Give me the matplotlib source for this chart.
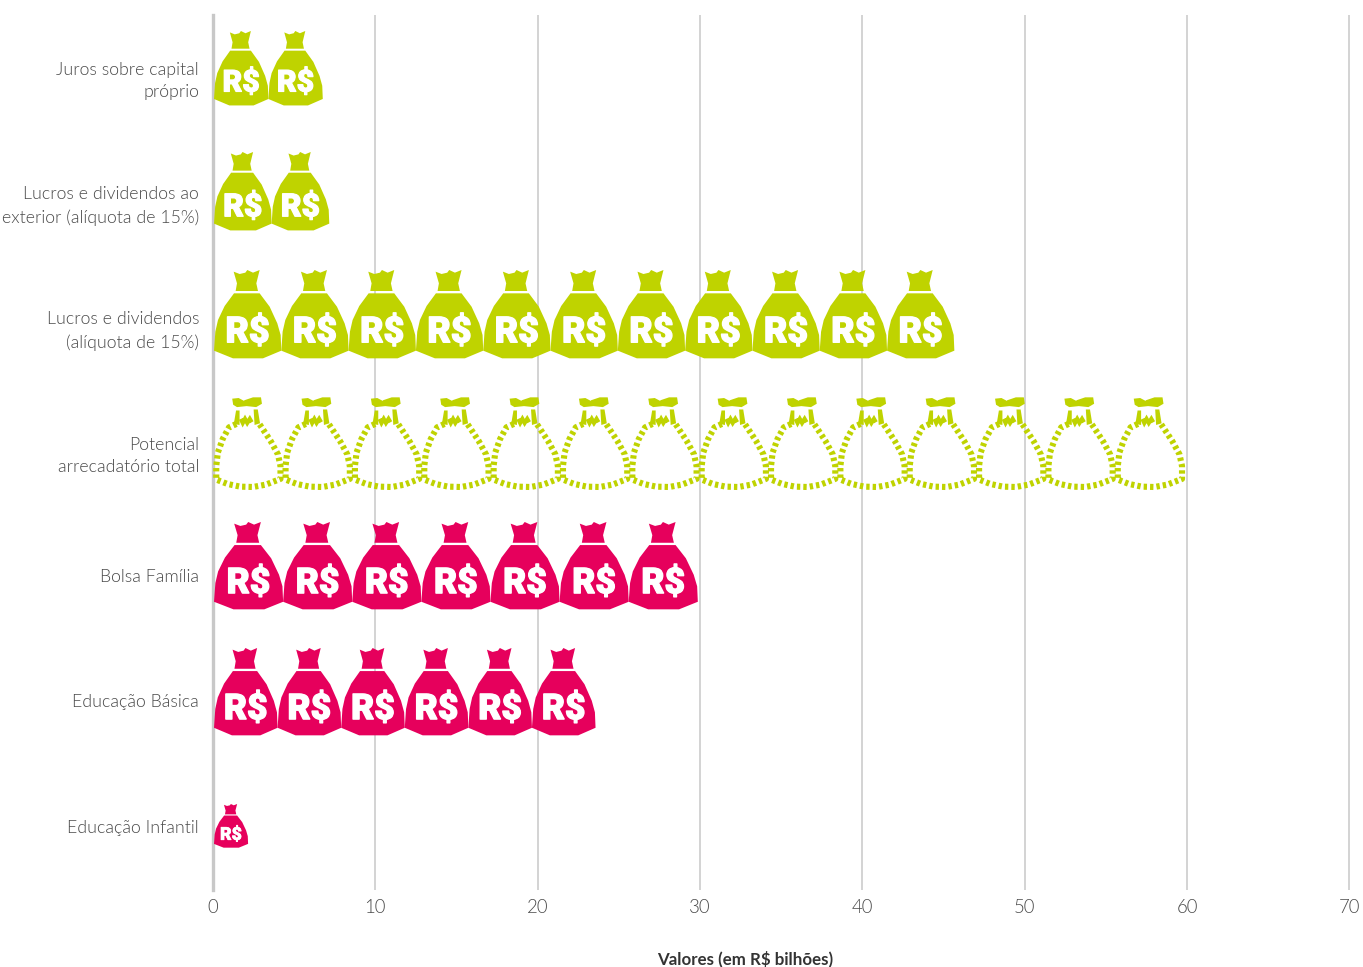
import matplotlib
matplotlib.use("Agg")
import matplotlib.pyplot as plt
import matplotlib.patheffects as pe
from matplotlib.patches import PathPatch
from matplotlib.path import Path
from matplotlib.transforms import Affine2D

# ---- data ----
categories = ["Juros sobre capital\npróprio", "Lucros e dividendos ao\nexterior (alíquota de 15%)",
              "Lucros e dividendos\n(alíquota de 15%)", "Potencial\narrecadatório total",
              "Bolsa Família", "Educação Básica", "Educação Infantil"]
values = [6.7, 7.1, 45.6, 59.8, 29.8, 23.5, 2.1]
icon_counts = [2, 2, 11, 14, 7, 6, 1]
x_ticks = [0, 10, 20, 30, 40, 50, 60, 70]
x_label = "Valores (em R$ bilhões)"
icon_text = "R$"

# ---- style ----
LIME, PINK = "#BFD300", "#E6005C"
colors = [LIME, LIME, LIME, LIME, PINK, PINK, PINK]
outlined = [False, False, False, True, False, False, False]
icon_h_px = [75, 79, 89, 91, 88, 88, 44]
icon_bottom_offset_px = [28.5, 28.5, 31.5, 35.5, 32.5, 33.5, 20.5]
BAND_PX = 125.0
PX_PER_UNIT = 16.24
TXT = "#4A4A4A"
FONT = ["Lato", "DejaVu Sans"]
ICON_FONT = ["Roboto", "DejaVu Sans"]

W, H = 1363, 967
fig = plt.figure(figsize=(W / 100, H / 100), dpi=100)
L, R, T, B = 213, 1349.5, 15, 890
ax = fig.add_axes([L / W, 1 - B / H, (R - L) / W, (B - T) / H])
ax.set_xlim(0, 70)
ax.set_ylim(7, 0)
for s in ax.spines.values():
    s.set_visible(False)
ax.set_xticks(x_ticks)
ax.set_yticks([i + 0.5 - 1.5 / BAND_PX for i in range(len(categories))])
ax.set_yticklabels(categories, fontsize=12.8, color=TXT, family=FONT, fontweight=300,
                   linespacing=1.5)
ax.tick_params(axis="both", length=0)
ax.tick_params(axis="y", pad=10)
ax.tick_params(axis="x", pad=6.5)
for t in ax.get_xticklabels():
    t.set(fontsize=13.4, color=TXT, family=FONT, fontweight=300)
ax.grid(axis="x", color="#CCCCCC", lw=1.2, zorder=0)
ax.set_axisbelow(True)
ax.axvline(0, color="#C8C8C8", lw=2.4, zorder=1, clip_on=False)
ax.set_xlabel(x_label, fontsize=12.2, fontweight="bold", color="#333333", family=FONT, labelpad=0)
ax.xaxis.set_label_coords((745 - L) / (R - L), -(951 - B) / (B - T), transform=ax.transAxes)
ax.xaxis.label.set_va("top")


def poly_path(polys, mapper):
    v, c = [], []
    for poly in polys:
        v += [mapper(*p) for p in poly]
        c += [Path.MOVETO] + [Path.LINETO] * (len(poly) - 2) + [Path.CLOSEPOLY]
    return Path(v, c)


def bag_path():
    def u(x, y):
        return ((x - 28) / 202, (297 - y) / 267)
    body = [(28, 272), (32, 215), (40, 180), (60, 138), (88, 100), (165, 100), (195, 140), (218, 190),
            (228, 225), (230, 272), (175, 295), (85, 295), (28, 272)]
    crown = [(87, 35), (105, 42), (122, 38), (128, 30), (145, 38), (165, 30), (155, 70), (160, 93),
             (93, 93), (97, 70), (87, 35)]
    return poly_path([body, crown], u)


def u2(x, y):
    return ((x - 28) / 217, (305 - y) / 270)


def dotted_outline():
    outline = [(98, 115), (75, 125), (55, 160), (40, 200), (35, 240), (35, 280), (70, 293), (110, 301),
               (150, 302), (190, 295), (236, 278), (236, 240), (228, 205), (205, 165), (170, 115)]
    w = [(112, 100), (118, 112), (125, 100), (132, 112), (140, 100), (146, 110)]
    return Path([u2(*p) for p in outline]), Path([u2(*p) for p in w])


def dotted_fill():
    bow_l = [(85, 40), (105, 38), (125, 48), (130, 62), (100, 65), (88, 58), (85, 40)]
    bow_r = [(122, 45), (150, 36), (175, 36), (178, 55), (160, 65), (130, 62), (122, 45)]
    neck_l = [(97, 75), (108, 75), (108, 118), (90, 115), (97, 75)]
    neck_r = [(152, 72), (165, 72), (172, 113), (155, 118), (152, 72)]
    return poly_path([bow_l, bow_r, neck_l, neck_r], u2)


solid = bag_path()
dot_line, dot_w = dotted_outline()
dot_fill = dotted_fill()
for i, (val, n) in enumerate(zip(values, icon_counts)):
    w = val / n
    h = icon_h_px[i] / BAND_PX
    bottom = i + 0.5 + icon_bottom_offset_px[i] / BAND_PX
    for k in range(n):
        x0 = k * w + 1 / PX_PER_UNIT
        tr = Affine2D().scale(w, -h).translate(x0, bottom) + ax.transData
        if outlined[i]:
            ax.add_patch(PathPatch(dot_line, transform=tr, fill=False, ec=colors[i], lw=4.4, zorder=3,
                                   capstyle="butt", joinstyle="round", linestyle=(0, (0.55, 0.5))))
            ax.add_patch(PathPatch(dot_w, transform=tr, fill=False, ec=colors[i], lw=3, zorder=3))
            ax.add_patch(PathPatch(dot_fill, transform=tr, fc=colors[i], ec="none", zorder=3))
        else:
            ax.add_patch(PathPatch(solid, transform=tr, fc=colors[i], ec="none", zorder=3))
            t = ax.text(x0 + w * 0.5, bottom - h * 0.30, icon_text, color="white",
                        fontsize=icon_h_px[i] * 0.29, fontweight="black", family=ICON_FONT,
                        ha="center", va="center", zorder=4)
            t.set_path_effects([pe.withStroke(linewidth=icon_h_px[i] * 0.011, foreground="white")])

fig.savefig("out.png", dpi=100)
